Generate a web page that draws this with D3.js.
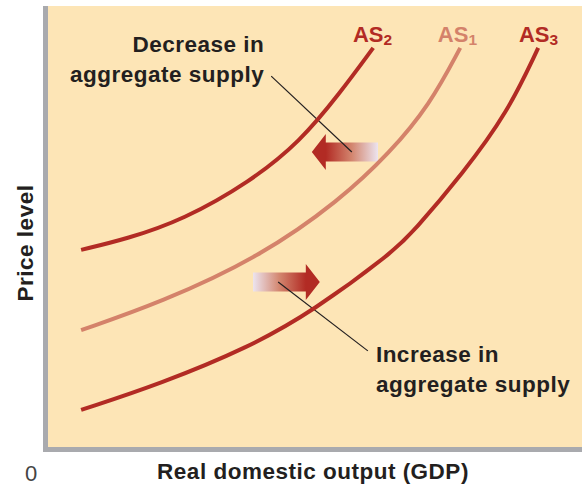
<!DOCTYPE html>
<html>
<head>
<meta charset="utf-8">
<script src="https://cdn.jsdelivr.net/npm/d3@7"></script>
<style>
  html, body { margin: 0; padding: 0; background: #fff; }
  svg text { font-family: "Liberation Sans", Arial, Helvetica, sans-serif; }
</style>
</head>
<body>
<script>
// curve data: [real output, price level] on a 0-100 scale
const as2 = [[6.2, 44.7], [14.8, 47.2], [25.3, 51.5], [37.8, 60.1], [47.2, 69.2], [54.7, 80.3], [60.9, 90.5]]
const as1 = [[6.2, 26.5], [21.0, 32.7], [39.7, 43.1], [54.7, 56.0], [64.0, 66.7], [71.5, 77.6], [77.2, 90.5]]
const as3 = [[6.2, 8.4], [21.0, 14.3], [37.8, 22.7], [49.6, 30.8], [64.6, 44.2], [68.4, 48.8], [77.7, 62.1], [86.0, 75.7], [91.8, 90.5]]
const curveNames = ['AS2', 'AS1', 'AS3']
const labelX = [57.1, 73.0, 88.2]
const labelY = 91.8

const size = { width: 582, height: 488, left: 48, right: 582, top: 6, bottom: 447 }
const red = '#b22b24', salmon = '#d4826a', pale = '#ece4ef', ink = '#231f20'

const svg = d3.select('body').append('svg')
    .attr('width', size.width)
    .attr('height', size.height)

const x = d3.scaleLinear().domain([0, 100]).range([size.left, size.right])
const y = d3.scaleLinear().domain([0, 100]).range([size.bottom, size.top])

// panel
svg.append('rect')
    .attr('x', x(0)).attr('y', y(100))
    .attr('width', x(100) - x(0)).attr('height', y(0) - y(100))
    .attr('fill', '#fde5b6')

// axes (thick grey bars)
svg.append('rect').attr('x', x(0) - 5).attr('y', y(100)).attr('width', 5).attr('height', y(0) - y(100) + 5).attr('fill', '#a9aaae')
svg.append('rect').attr('x', x(0) - 5).attr('y', y(0)).attr('width', x(100) - x(0) + 5).attr('height', 5).attr('fill', '#a9aaae')

// gradients for arrows
const defs = svg.append('defs')
const makeGrad = (id, x1, x2) => {
    const g = defs.append('linearGradient').attr('id', id)
        .attr('gradientUnits', 'userSpaceOnUse')
        .attr('x1', x1).attr('x2', x2).attr('y1', 0).attr('y2', 0)
    g.append('stop').attr('offset', 0).attr('stop-color', red)
    g.append('stop').attr('offset', 0.5).attr('stop-color', '#d3866f')
    g.append('stop').attr('offset', 1).attr('stop-color', pale)
}

// arrows: tip, tail (data units); head sizes in px
const arrows = [
    { tip: [49.4, 66.9], tail: 61.8, id: 'gDec' },
    { tip: [50.9, 37.4], tail: 38.4, id: 'gInc' }
]
const headLen = 14, headHalf = 18, shaftHalf = 9.5
arrows.forEach(a => {
    const tx = x(a.tip[0]), cy = y(a.tip[1]), ex = x(a.tail)
    const dir = ex > tx ? 1 : -1
    const bx = tx + dir * headLen
    makeGrad(a.id, bx, ex)
    const pts = [[tx, cy], [bx, cy - headHalf], [bx, cy - shaftHalf], [ex, cy - shaftHalf],
                 [ex, cy + shaftHalf], [bx, cy + shaftHalf], [bx, cy + headHalf]]
    svg.append('path')
        .attr('d', 'M' + pts.map(p => p.join(',')).join('L') + 'Z')
        .attr('fill', `url(#${a.id})`)
})

// leader lines
const leaders = [
    [[41.8, 84.1], [56.9, 66.9]],
    [[43.1, 37.4], [59.9, 21.8]]
]
leaders.forEach(l => {
    svg.append('line')
        .attr('x1', x(l[0][0])).attr('y1', y(l[0][1]))
        .attr('x2', x(l[1][0])).attr('y2', y(l[1][1]))
        .attr('stroke', ink).attr('stroke-width', 1.2)
})

// curves
const line = d3.line().x(d => x(d[0])).y(d => y(d[1])).curve(d3.curveBasis)
const curves = [as2, as1, as3]
const colors = [red, salmon, red]
curves.forEach((c, i) => {
    svg.append('path')
        .attr('d', line(c))
        .attr('fill', 'none')
        .attr('stroke', colors[i])
        .attr('stroke-width', 4)
})

// curve labels
curveNames.forEach((n, i) => {
    const t = svg.append('text')
        .attr('x', x(labelX[i])).attr('y', y(labelY))
        .attr('fill', colors[i])
        .attr('font-weight', 'bold')
        .attr('font-size', 22)
    t.append('tspan').text(n.slice(0, 2))
    t.append('tspan').attr('font-size', 15.5).attr('dy', 3).text(n.slice(2))
})

// annotations
const boldText = (tx, ty, str, anchor) => svg.append('text')
    .attr('x', tx).attr('y', ty)
    .attr('text-anchor', anchor)
    .attr('font-weight', 'bold').attr('font-size', 22.5)
    .attr('letter-spacing', 0.5)
    .attr('fill', ink)
    .text(str)

boldText(x(40.5), y(89.6), 'Decrease in', 'end')
boldText(x(40.5), y(82.8), 'aggregate supply', 'end')
boldText(x(61.4), y(19.3), 'Increase in', 'start')
boldText(x(61.4), y(12.5), 'aggregate supply', 'start')

// axis titles
boldText(313, 479, 'Real domestic output (GDP)', 'middle')
svg.append('text')
    .attr('transform', `translate(33,${243})rotate(-90)`)
    .attr('text-anchor', 'middle')
    .attr('font-weight', 'bold').attr('font-size', 22.5)
    .attr('letter-spacing', 0.5)
    .attr('fill', ink)
    .text('Price level')
svg.append('text')
    .attr('x', 31).attr('y', 481)
    .attr('text-anchor', 'middle')
    .attr('font-size', 22)
    .attr('fill', '#444')
    .text('0')
</script>
</body>
</html>
